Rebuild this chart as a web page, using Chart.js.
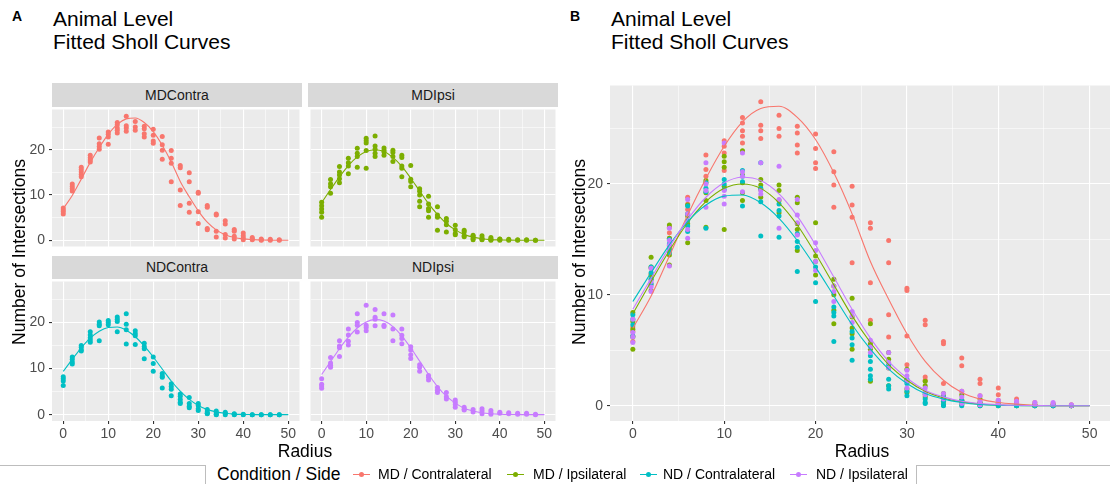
<!DOCTYPE html>
<html><head><meta charset="utf-8">
<script src="https://cdn.jsdelivr.net/npm/chart.js@4"></script>
<style>
html,body{margin:0;padding:0;width:1110px;height:484px;overflow:hidden;background:#fff;font-family:"Liberation Sans",Arial,Helvetica,sans-serif;}
canvas{position:absolute;}
.t{position:absolute;white-space:nowrap;color:#000;}
.strip{position:absolute;background:#d9d9d9;color:#1a1a1a;font-size:14px;text-align:center;}
.key{position:absolute;width:17px;height:1.1px;}
.dot{position:absolute;width:5px;height:5px;border-radius:50%;}
</style></head>
<body>
<div class="t" style="left:12px;top:9px;font-size:14px;font-weight:bold;line-height:14px;">A</div>
<div class="t" style="left:53px;top:7px;font-size:21px;line-height:23px;">Animal Level<br>Fitted Sholl Curves</div>
<div class="t" style="left:570px;top:9px;font-size:14px;font-weight:bold;line-height:14px;">B</div>
<div class="t" style="left:611px;top:7px;font-size:21px;line-height:23px;">Animal Level<br>Fitted Sholl Curves</div>

<div class="strip" style="left:52px;top:83px;width:250px;height:24px;line-height:24px;">MDContra</div>
<div class="strip" style="left:308px;top:83px;width:250px;height:24px;line-height:24px;">MDIpsi</div>
<div class="strip" style="left:52px;top:256px;width:250px;height:23px;line-height:23px;">NDContra</div>
<div class="strip" style="left:308px;top:256px;width:250px;height:23px;line-height:23px;">NDIpsi</div>

<canvas id="cTL" width="302" height="142" style="left:0px;top:107px;"></canvas>
<canvas id="cTR" width="250" height="142" style="left:308px;top:107px;"></canvas>
<canvas id="cBL" width="302" height="166" style="left:0px;top:279px;"></canvas>
<canvas id="cBR" width="250" height="166" style="left:308px;top:279px;"></canvas>
<canvas id="cB" width="555" height="362" style="left:560px;top:83px;"></canvas>

<div class="t" style="left:155px;top:441px;width:300px;text-align:center;font-size:17.5px;line-height:20px;">Radius</div>
<div class="t" style="left:712px;top:441px;width:300px;text-align:center;font-size:17.5px;line-height:20px;">Radius</div>
<div class="t" style="left:-131px;top:242px;width:300px;text-align:center;font-size:17.5px;line-height:20px;transform:rotate(-90deg);">Number of Intersections</div>
<div class="t" style="left:429px;top:242px;width:300px;text-align:center;font-size:17.5px;line-height:20px;transform:rotate(-90deg);">Number of Intersections</div>

<div style="position:absolute;left:-2px;top:465px;width:207px;height:30px;border-top:1px solid #bdbdbd;border-right:1px solid #bdbdbd;"></div>
<div style="position:absolute;left:916px;top:465px;width:210px;height:30px;border-top:1px solid #bdbdbd;border-left:1px solid #bdbdbd;"></div>
<div id="legend"></div>

<script>
// ---- data ----
const radii = [0,2,4,6,8,10,12,14,16,18,20,22,24,26,28,30,32,34,36,38,40,42,44,46,48];
const curveRadius = [0,2,4,6,8,10,12,14,16,18,20,22,24,26,28,30,32,34,36,38,40,42,44,46,48,50];
const xTickValues = [0,5,10,15,20,25,30,35,40,45,50];
const yTickValues = [0,5,10,15,20,25];
const groupNames = ["MDContra","MDIpsi","NDContra","NDIpsi"];
const legendLabels = ["MD / Contralateral","MD / Ipsilateral","ND / Contralateral","ND / Ipsilateral"];
const groupColors = ["#F8766D","#7CAE00","#00BFC4","#C77CFF"];

const mdContraPts = [
 [7.1,6.7,6.3,5.8],[12.4,11.9,11.4,10.9],[16.1,15.6,15.1,14.5,14.0],[18.8,18.2,17.7,17.3],
 [22.6,21.3,20.7,20.1],[23.9,23.4,22.8,21.2],[26.0,25.5,24.8,24.3,23.7],[27.4,25.3,24.8,24.1],
 [26.2,25.0,24.3],[25.2,24.6,23.5,22.8],[24.5,23.2,21.9,21.4],[22.9,21.1,19.9,17.9],
 [19.8,18.1,17.0,12.9],[16.5,16.0,11.1,7.7],[14.9,12.9,8.2,6.2],[10.6,10.4,6.3,3.7],
 [7.7,7.3,2.6,2.3],[5.8,5.6,2.0,0.7],[4.3,3.6,1.3,0.5],[2.4,2.0,0.9,0.3],
 [1.6,1.0,0.5,0.1],[0.6,0.3,0.1],[0.3,0.1,0],[0.2,0],[0.1,0]
];
const mdIpsiPts = [
 [8.4,7.6,6.9,6.2,5.1],[13.4,12.5,11.8,10.4],[16.3,15.1,14.4,13.6,12.7],[18.1,17.1,16.4,14.7],
 [20.3,19.2,18.5,16.1],[22.5,22.0,21.5,19.8,15.9],[23.0,20.8,20.1,19.2,18.5],[20.4,19.9,19.5,18.8],
 [19.9,19.4,18.5,17.4],[18.8,18.3,16.4,15.9,14.0],[16.5,13.5,13.0,11.8],[11.4,10.8,10.0,8.6,7.4],
 [9.7,8.0,7.0,6.5,5.1],[7.4,5.6,5.1,2.2],[4.8,4.2,3.4,1.8],[3.3,2.3,1.5,1.2],
 [2.2,1.8,1.0,0.8],[1.1,0.9,0.4,0.1],[1.0,0.5,0.2,0.1],[0.6,0.3,0.1,0],
 [0.3,0.2,0],[0.2,0],[0.1,0],[0.1,0],[0,0]
];
const ndContraPts = [
 [8.2,7.8,7.3,6.3],[12.5,12.0,11.4,11.0],[15.0,14.6,14.1,13.8],[18.0,17.3,16.7,16.2,15.7],
 [20.1,19.6,19.3,16.0],[20.4,20.0,19.5],[21.2,20.7,20.2,18.0],[21.9,19.6,18.4,15.3],
 [18.2,17.6,17.1,15.2],[15.5,14.8,14.3,12.1],[12.5,11.1,9.4],[8.9,8.4,8.1,5.8],
 [6.7,6.1,5.5,4.1],[4.5,4.0,3.3,2.7,2.4],[3.7,2.4,1.8,1.5],[2.4,2.0,1.3,0.9],
 [1.1,0.6,0.3,0.2],[0.8,0.4,0.1,0],[0.5,0.3,0],[0.2,0.1,0],
 [0.1,0],[0,0],[0,0],[0,0],[0,0]
];
const ndIpsiPts = [
 [7.8,6.6,6.2,5.7],[12.4,11.2,10.7,10.3],[16.0,14.9,14.5,12.6],[18.6,17.3,15.9,15.1],
 [21.9,20.0,19.4,17.9],[23.7,19.4,18.9,18.2],[22.8,21.1,20.7,19.3],[21.9,19.4,19.1],
 [21.6,18.6,16.0],[18.6,17.2,16.5,15.4],[14.7,14.0,13.0,12.2],[10.8,10.3,9.4],
 [8.5,8.1,7.5],[5.9,5.3,4.8],[4.8,3.9,3.4],[3.2,2.7,2.2,1.6],
 [1.6,1.2,1.0],[1.1,0.6],[1.3,0.8,0.2],[0.9,0.4,0.1],
 [0.5,0.3],[0.4,0.2],[0.3,0.1],[0.3,0.1],[0.1,0]
];

const mdContraFit = [7.0,9.9,13.5,17.2,20.5,23.4,25.6,26.8,27.0,26.0,24.0,21.0,17.3,13.0,9.6,6.5,4.0,2.3,1.2,0.6,0.3,0.15,0.05,0.02,0,0];
const mdIpsiFit   = [8.3,11.2,14.0,16.5,18.4,19.6,20.0,19.6,18.3,16.3,13.7,10.9,8.1,5.7,3.7,2.3,1.3,0.7,0.35,0.15,0.07,0.03,0.01,0,0,0];
const ndContraFit = [9.4,12.0,14.5,16.6,18.1,18.9,19.0,18.3,16.9,14.9,12.5,9.9,7.3,5.1,3.3,2.0,1.1,0.6,0.3,0.12,0.05,0.02,0,0,0,0];
const ndIpsiFit   = [8.7,11.5,14.3,16.8,18.8,20.1,20.6,20.3,19.1,17.1,14.5,11.6,8.7,6.1,4.0,2.5,1.4,0.8,0.4,0.2,0.1,0.04,0.02,0,0,0];

const allPts = [mdContraPts, mdIpsiPts, ndContraPts, ndIpsiPts];
const allFits = [mdContraFit, mdIpsiFit, ndContraFit, ndIpsiFit];

// ---- helpers ----
const FONT = '"Liberation Sans", Arial, Helvetica, sans-serif';
function toPoints(arr){ const out=[]; arr.forEach((vals,i)=>vals.forEach(v=>out.push({x:radii[i],y:v}))); return out; }
function toCurve(arr){ return curveRadius.map((x,i)=>({x:x,y:arr[i]})); }
const bgPlugin = {id:'panelbg', beforeDraw(chart){ const a=chart.chartArea, c=chart.ctx; c.save(); c.fillStyle='#ebebeb'; c.fillRect(a.left,a.top,a.right-a.left,a.bottom-a.top); c.restore(); }};
function isMajor(v){ return Math.abs(v%10) < 1e-9; }
function axis(vals, min, max, showLabels, size, horizontal, pad){
  return {
    type:'linear', min:min, max:max,
    afterBuildTicks: s => { s.ticks = vals.map(v=>({value:v})); },
    afterFit: s => { if(horizontal) s.height = size; else s.width = size; s.paddingLeft=0; s.paddingRight=0; s.paddingTop=0; s.paddingBottom=0; },
    border:{display:false},
    grid:{ color:'#ffffff', lineWidth: c => isMajor(c.tick.value) ? 1.1 : 0.55,
      drawTicks: showLabels, tickLength:3, tickWidth:1.1,
      tickColor: c => isMajor(c.tick.value) ? '#333333' : 'rgba(0,0,0,0)' },
    ticks:{ display:showLabels, autoSkip:false, maxRotation:0, minRotation:0, padding:pad, color:'#4d4d4d',
      font:{family:FONT, size:14}, callback: v => isMajor(v) ? String(v) : '' }
  };
}
function make(id, datasets, showX, showY, yW){
  return new Chart(document.getElementById(id), {
    type:'scatter',
    data:{datasets:datasets},
    options:{
      responsive:false, animation:false, devicePixelRatio:1,
      layout:{padding:0},
      plugins:{legend:{display:false}, tooltip:{enabled:false}},
      scales:{
        x: axis(xTickValues, -2.5, 52.5, showX, showX?24:0, true, 2),
        y: axis(yTickValues, -1.375, 28.875, showY, yW, false, 4)
      }
    },
    plugins:[bgPlugin]
  });
}
function lineDs(g, order){ return {type:'line', data:toCurve(allFits[g]), borderColor:groupColors[g], borderWidth:1.1, pointRadius:0, fill:false, cubicInterpolationMode:'monotone', order:order}; }
function ptDs(g, order){ return {type:'scatter', data:toPoints(allPts[g]), backgroundColor:groupColors[g], borderWidth:0, pointRadius:2.5, pointHoverRadius:2.5, order:order}; }

// ---- facets ----
make('cTL', [lineDs(0,0), ptDs(0,1)], false, true, 52);
make('cTR', [lineDs(1,0), ptDs(1,1)], false, false, 0);
make('cBL', [lineDs(2,0), ptDs(2,1)], true, true, 52);
make('cBR', [lineDs(3,0), ptDs(3,1)], true, false, 0);

// ---- combined ----
const bSets = [];
for(let g=0; g<4; g++) bSets.push(ptDs(g, 8-g));
for(let g=0; g<4; g++) bSets.push(lineDs(g, 4-g));
make('cB', bSets, true, true, 50);

// ---- legend ----
const leg = document.getElementById('legend');
function addDiv(cls, style, txt){ const d=document.createElement('div'); d.className=cls; d.setAttribute('style',style); if(txt) d.textContent=txt; leg.appendChild(d); }
addDiv('t', 'left:217px;top:464px;font-size:17.5px;line-height:20px;', 'Condition / Side');
const keyCenters = [361, 515, 648, 798];
const textLefts = [378, 533, 663, 816];
for(let g=0; g<4; g++){
  addDiv('key', 'left:'+(keyCenters[g]-8.5)+'px;top:474px;background:'+groupColors[g]+';');
  addDiv('dot', 'left:'+(keyCenters[g]-2.5)+'px;top:472px;background:'+groupColors[g]+';');
  addDiv('t', 'left:'+textLefts[g]+'px;top:466px;font-size:14px;line-height:17px;', legendLabels[g]);
}
</script>
</body></html>
